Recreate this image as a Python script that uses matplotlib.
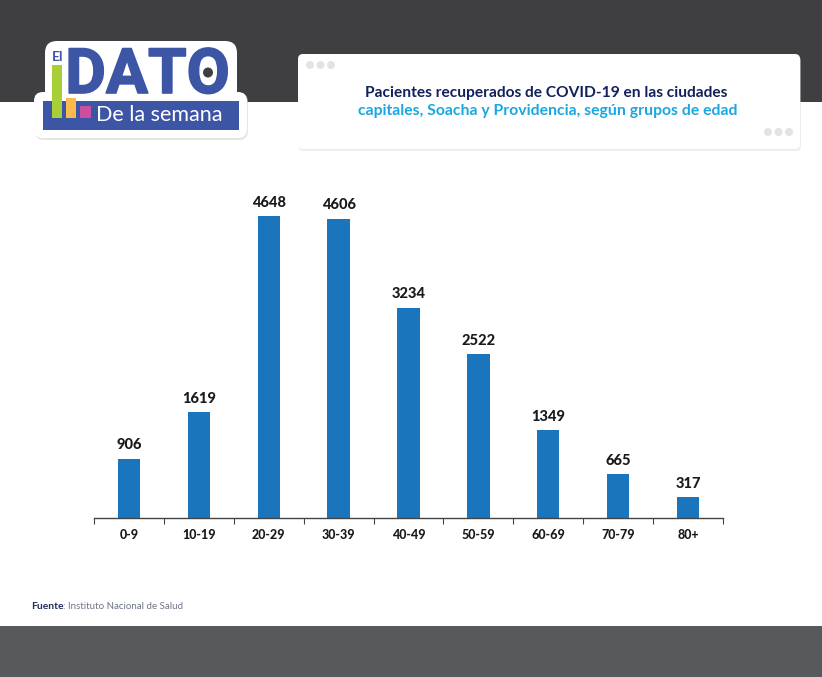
# Recovered patients by age group, "El dato de la semana" layout
import matplotlib
matplotlib.use("Agg")
import matplotlib.pyplot as plt
import matplotlib.patheffects as pe
from matplotlib.patches import FancyBboxPatch, Rectangle, Circle

# Data
age_groups = ["0-9", "10-19", "20-29", "30-39", "40-49", "50-59", "60-69", "70-79", "80+"]
patients = [906, 1619, 4648, 4606, 3234, 2522, 1349, 665, 317]

title_line1 = "Pacientes recuperados de COVID-19 en las ciudades"
title_line2 = "capitales, Soacha y Providencia, según grupos de edad"

W, H = 822, 677
BLUE = "#3d55a5"
plt.rcParams["font.family"] = ["Lato", "DejaVu Sans"]

fig = plt.figure(figsize=(W / 100, H / 100), dpi=100, facecolor="white")

# Background axes in pixel coordinates, used for the banner, logo and title box
bg = fig.add_axes([0, 0, 1, 1], zorder=0)
bg.set_xlim(0, W)
bg.set_ylim(H, 0)
bg.axis("off")

bg.add_patch(Rectangle((0, 0), W, 102, color="#3f3f41", lw=0))
bg.add_patch(Rectangle((0, 626), W, 51, color="#58595b", lw=0))


def rounded(x, y, w, h, r, color, z=1, alpha=1):
    bg.add_patch(FancyBboxPatch((x + r, y + r), w - 2 * r, h - 2 * r,
                                boxstyle=f"round,pad={r},rounding_size={r}",
                                fc=color, ec="none", lw=0, zorder=z, alpha=alpha))


# Title box
rounded(298, 56, 503, 95, 5, "#dddddd", z=1, alpha=0.5)
rounded(298, 54, 502, 95, 5, "white", z=2)
for cx in [310, 320.5, 331]:
    bg.add_patch(Circle((cx, 65), 4, color="#e3e3e3", lw=0, zorder=3))
for cx in [768, 778.5, 789]:
    bg.add_patch(Circle((cx, 132), 4, color="#e3e3e3", lw=0, zorder=3))
bg.text(546, 93.5, title_line1, color="#12205c", fontsize=11.2, fontweight="bold",
        ha="center", va="center", zorder=3)
bg.text(547.5, 111, title_line2, color="#1aa7e0", fontsize=11.3, fontweight="bold",
        ha="center", va="center", zorder=3)

# Logo, white sticker shape first
rounded(35, 93, 213, 47, 9, "#d5d5d5", z=1, alpha=0.6)
rounded(34, 92, 213, 46, 9, "white", z=2)
rounded(45, 41, 192, 70, 12, "white", z=2)

# Roboto is narrow enough to keep the word at the logo's height
bg.text(147.5, 76, "DATO", color=BLUE, fontsize=45, fontweight="bold", family="Roboto",
        ha="center", va="center", zorder=3,
        path_effects=[pe.withStroke(linewidth=1.2, foreground=BLUE)])
bg.add_patch(Circle((208, 72.5), 5, color="#3f3f41", lw=0, zorder=4))

bg.text(58, 57, "El", color=BLUE, fontsize=10, fontweight="bold",
        ha="center", va="center", zorder=5)
bg.add_patch(Rectangle((43, 101), 196, 29, color=BLUE, lw=0, zorder=4))
bg.add_patch(Rectangle((52, 65), 10, 53, color="#a9cf38", lw=0, zorder=5))
bg.add_patch(Rectangle((66, 98), 10, 20, color="#fdb94e", lw=0, zorder=5))
bg.add_patch(Rectangle((80, 106), 11, 12, color="#cb4f9e", lw=0, zorder=5))
bg.text(96, 115, "De la semana", color="white", fontsize=15.5, fontweight="normal",
        ha="left", va="center", zorder=5)

# Source note
bg.text(31, 606.5, "Fuente", color="#1f2d5c", fontsize=7.4, fontweight="bold", va="center")
bg.text(63, 606.5, ": Instituto Nacional de Salud", color="#6d7486", fontsize=7, va="center")

# Bar chart, axes placed so the baseline runs from x=94 to x=723 at y=517.5
ax = fig.add_axes([94 / W, (H - 517.5) / H, 629 / W, 310 / H], zorder=1)
ax.patch.set_alpha(0)
positions = list(range(len(age_groups)))
bars = ax.bar(positions, patients, width=0.32, color="#1b75bc")
ax.set_xlim(-0.5, len(age_groups) - 0.5)
ax.set_ylim(0, 310 / 0.0649)

for bar, value in zip(bars, patients):
    ax.annotate(str(value), (bar.get_x() + bar.get_width() / 2, value),
                xytext=(0, 4.5), textcoords="offset points", ha="center", va="bottom",
                fontsize=10.5, fontweight="black", color="#1a1a1a")

for side in ["top", "left", "right"]:
    ax.spines[side].set_visible(False)
ax.spines["bottom"].set_color("#444444")
ax.spines["bottom"].set_linewidth(1)

ax.set_yticks([])
ax.set_xticks(positions)
ax.set_xticklabels(age_groups, fontsize=9, fontweight="black", color="#1a1a1a")
ax.tick_params(axis="x", which="major", length=0, pad=8.5)
ax.set_xticks([p - 0.5 for p in positions] + [positions[-1] + 0.5], minor=True)
ax.tick_params(axis="x", which="minor", length=4, width=0.8, color="#444444")

fig.savefig("out.png", dpi=100)
